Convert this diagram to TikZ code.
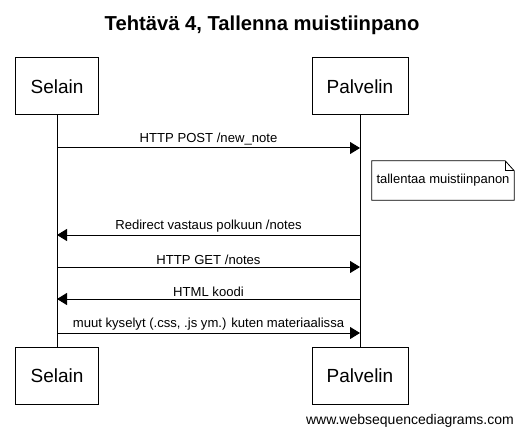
\documentclass[tikz,border=0pt]{standalone}
\usepackage{fontspec}
\setmainfont{Liberation Sans}
\usetikzlibrary{arrows.meta}

\tikzset{
  actor/.style={draw, line width=1pt, minimum height=57pt, inner sep=0pt, font=\fontsize{19}{22}\selectfont},
  msg/.style={line width=1pt, -{Triangle[length=10pt,width=12pt]}},
  msglabel/.style={font=\fontsize{13.1}{15}\selectfont, midway, above, inner sep=2pt},
}

\begin{document}
\begin{tikzpicture}[x=1pt,y=-1pt]
\useasboundingbox (0,0) rectangle (524,438);
\node[font=\bfseries\fontsize{20.2}{24}\selectfont] (title) at (262,25) {Tehtävä 4, Tallenna muistiinpano};

% osapuolet
\node[actor, minimum width=83pt] (selainTop) at (57,86.5) {Selain};
\node[actor, minimum width=96pt] (palvelinTop) at (360,86.5) {Palvelin};
\node[actor, minimum width=83pt] (selainBot) at (57,375.5) {Selain};
\node[actor, minimum width=96pt] (palvelinBot) at (360,375.5) {Palvelin};
\draw[line width=1pt] (selainTop.south) -- (selainBot.north);
\draw[line width=1pt] (palvelinTop.south) -- (palvelinBot.north);

% viestit
\draw[msg] (selainTop |- 0,148) -- (palvelinTop |- 0,148) node[msglabel] {HTTP POST /new\_note};
\node[font=\fontsize{13}{15}\selectfont, minimum width=142pt, minimum height=39pt, inner sep=0pt] (note) at (443,180.5) {tallentaa muistiinpanon};
\draw[line width=0.8pt] (note.north west) -- ([xshift=-9pt]note.north east) -- ([yshift=-10pt]note.north east) -- (note.south east) -- (note.south west) -- cycle;
\draw[line width=0.8pt] ([xshift=-9pt]note.north east) -- ([xshift=-9pt,yshift=-10pt]note.north east) -- ([yshift=-10pt]note.north east);
\draw[msg] (palvelinTop |- 0,235) -- (selainTop |- 0,235) node[msglabel] {Redirect vastaus polkuun /notes};
\draw[msg] (selainTop |- 0,267) -- (palvelinTop |- 0,267) node[msglabel] {HTTP GET /notes};
\draw[msg] (palvelinTop |- 0,299) -- (selainTop |- 0,299) node[msglabel] {HTML koodi};
\draw[msg] (selainTop |- 0,333) -- (palvelinTop |- 0,333) node[msglabel] {muut kyselyt (.css, .js ym.) kuten materiaalissa};

\node[anchor=east, font=\fontsize{14}{17}\selectfont, inner sep=0pt] (footer) at (514,421) {www.websequencediagrams.com};
\end{tikzpicture}
\end{document}
